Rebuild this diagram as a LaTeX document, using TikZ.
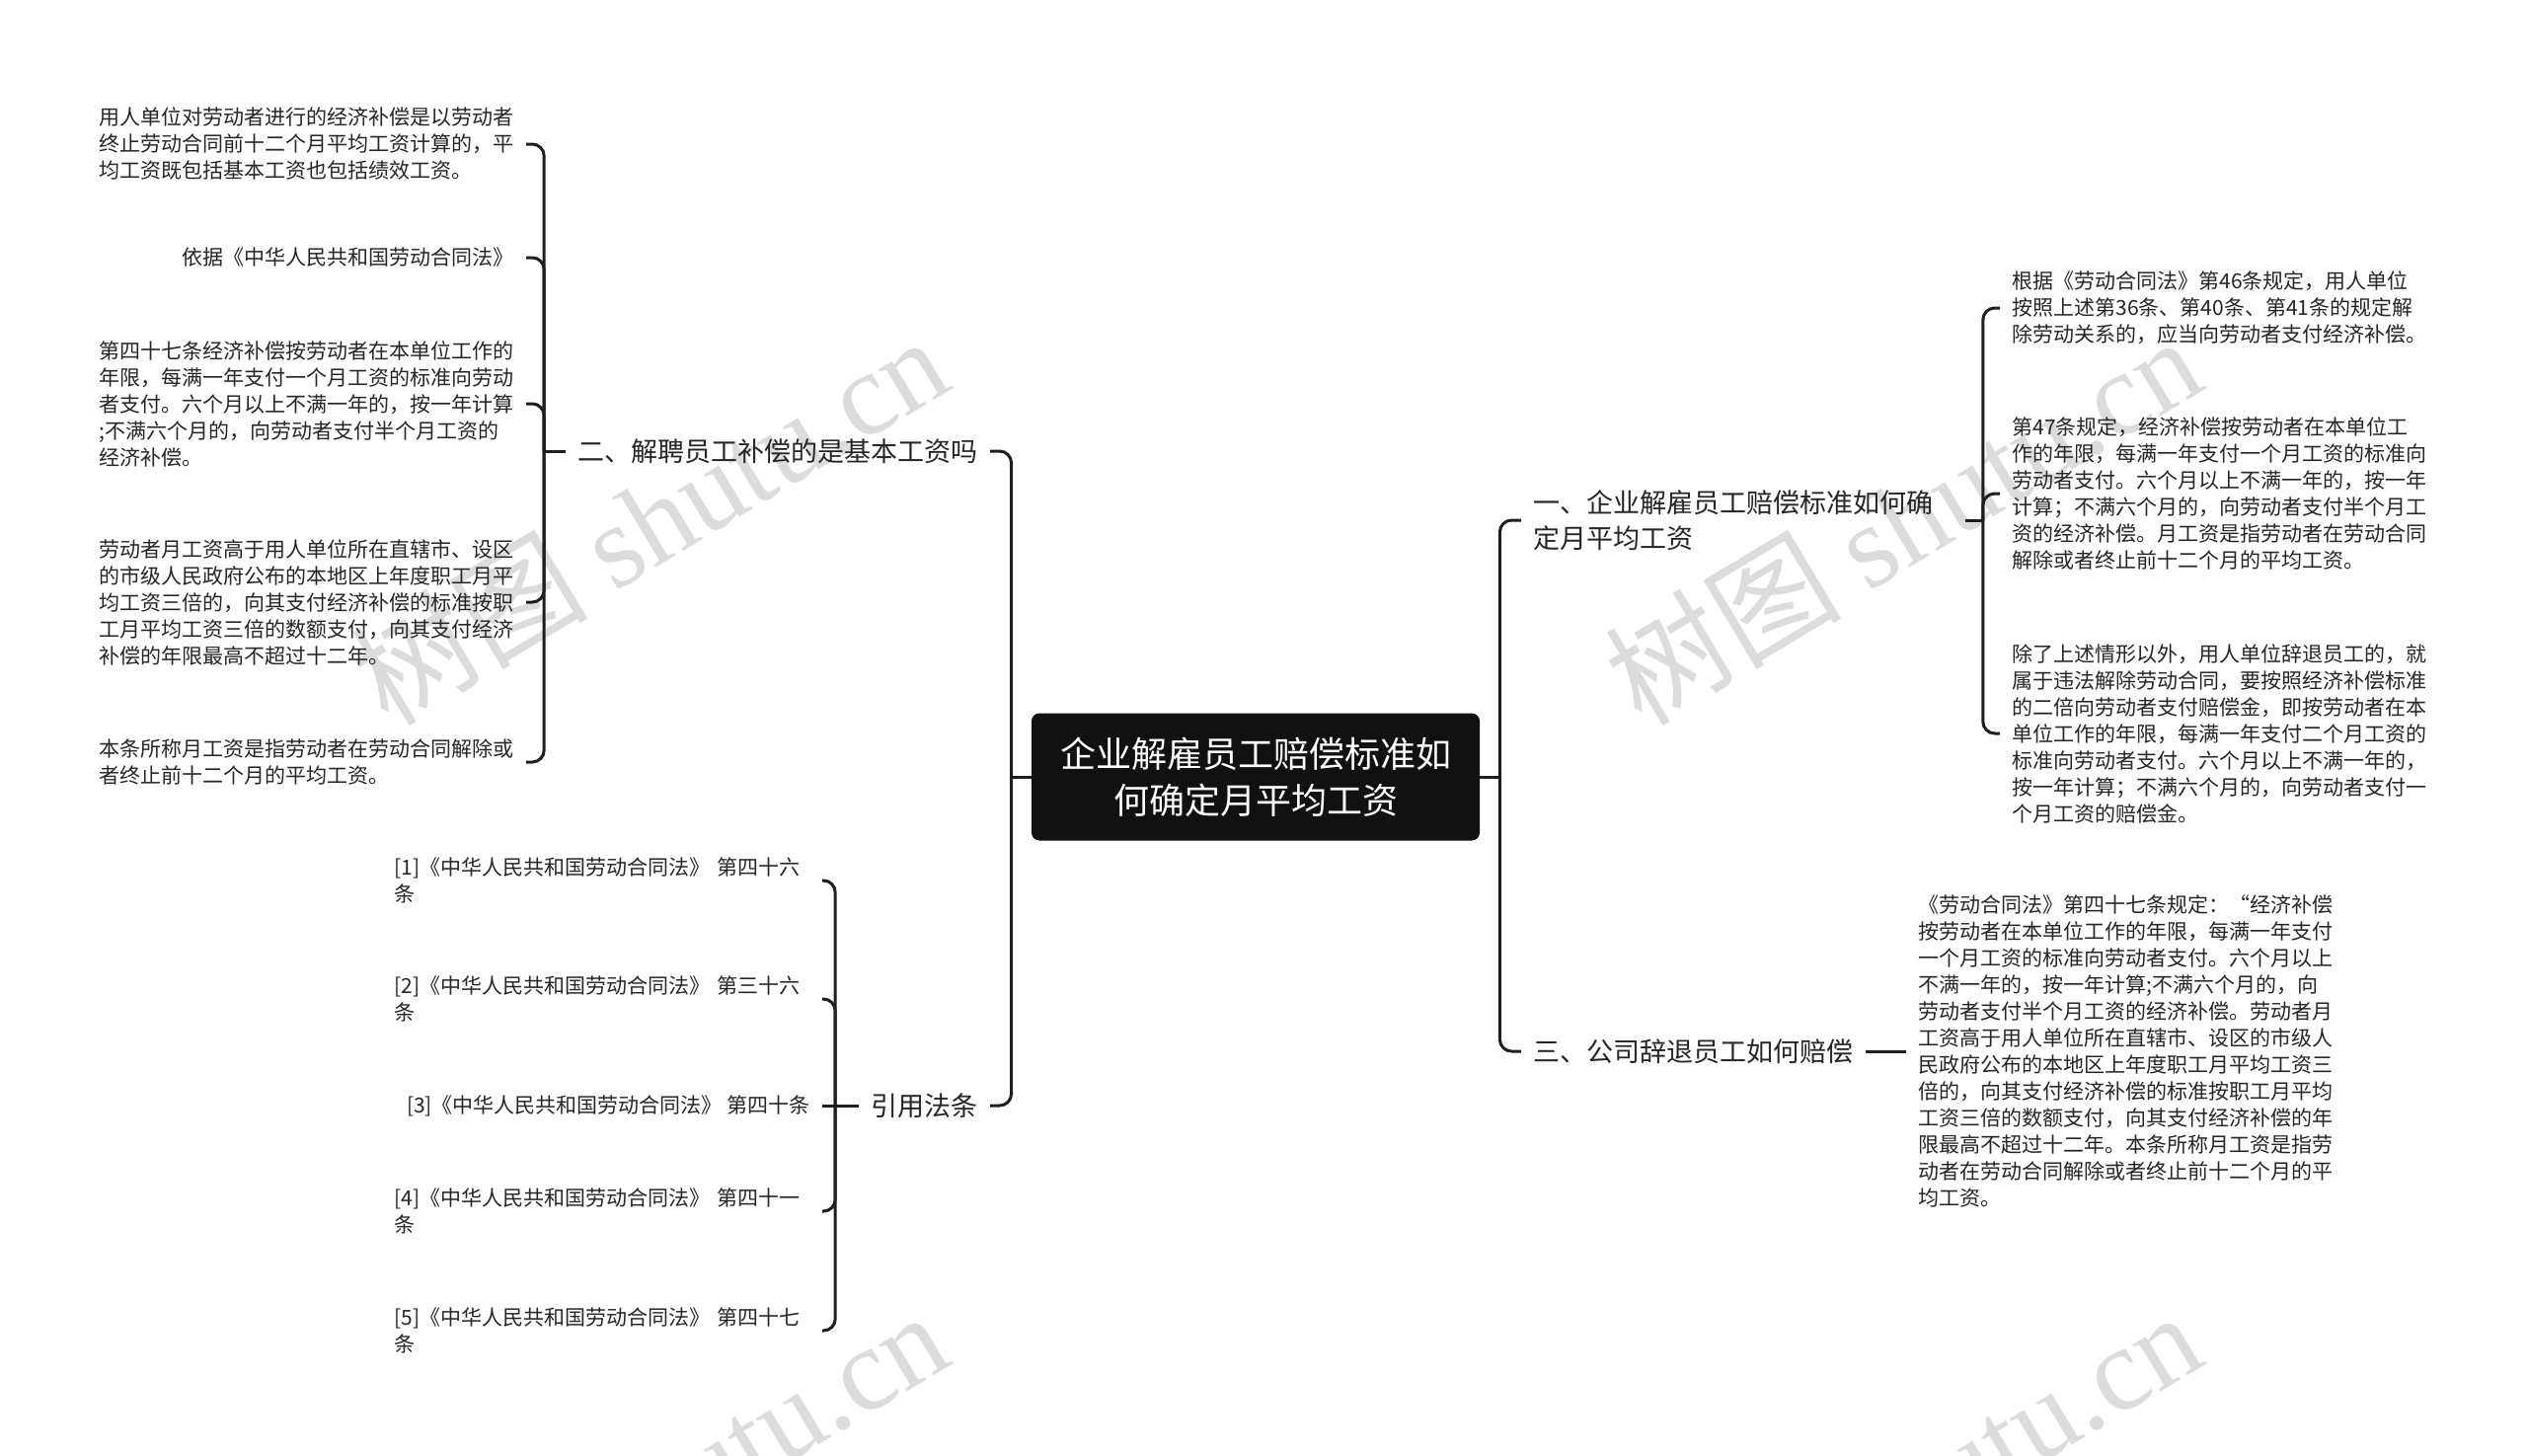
\documentclass[tikz,border=0pt]{standalone}
\usepackage{fontspec}
\setmainfont{Noto Sans CJK SC}
\newfontfamily\wmfont{Liberation Serif}
\usetikzlibrary{positioning}
\definecolor{rootfill}{HTML}{111111}
\definecolor{inkline}{HTML}{1E1E1E}
\definecolor{inktext}{HTML}{262626}
\definecolor{wmgray}{HTML}{DCDCDC}

\begin{document}
\begin{tikzpicture}[
    x=0.5pt, y=-0.5pt,
    every node/.style={text=inktext},
    rootnode/.style={fill=rootfill, text=white, rounded corners=4pt, minimum width=227pt, minimum height=64.5pt, align=center, font=\fontsize{18}{23.5}\selectfont},
    branch/.style={align=left, inner xsep=6pt, font=\fontsize{13.5}{18}\selectfont},
    leaf/.style={align=left, inner xsep=6pt, inner ysep=2pt, font=\fontsize{10.5}{13.5}\selectfont},
    refbox/.style={leaf, text width=210.5pt},
    link/.style={draw=inkline, line width=1.5pt, rounded corners=6pt},
    watermark/.style={text=wmgray, rotate=31, font=\fontsize{60}{60}\selectfont}
]
    \useasboundingbox[fill=white] (0,0) rectangle (2560,1474);
    \begin{scope}
        \clip (0,0) rectangle (2560,1474);
        \node[watermark] (wm1) at (657,526) {树图 {\wmfont shutu.cn}};
        \node[watermark] (wm2) at (1927,526) {树图 {\wmfont shutu.cn}};
        \node[watermark] (wm3) at (657,1514) {树图 {\wmfont shutu.cn}};
        \node[watermark] (wm4) at (1927,1514) {树图 {\wmfont shutu.cn}};
    \end{scope}

    \node[rootnode] (root) at (1272,787) {企业解雇员工赔偿标准如\\何确定月平均工资};

    \node[branch, anchor=west, text width=212.5pt] (pay) at (1541,527) {一、企业解雇员工赔偿标准如何确\\定月平均工资};
    \node[branch, anchor=west] (dismiss) at (1541,1065) {三、公司辞退员工如何赔偿};
    \node[branch, anchor=east] (basic) at (1003,457) {二、解聘员工补偿的是基本工资吗};
    \node[branch, anchor=east] (laws) at (1003,1120) {引用法条};

    \node[leaf, anchor=west] (art46) at (2026,312) {根据《劳动合同法》第46条规定，用人单位\\按照上述第36条、第40条、第41条的规定解\\除劳动关系的，应当向劳动者支付经济补偿。};
    \node[leaf, anchor=west] (art47) at (2026,500) {第47条规定，经济补偿按劳动者在本单位工\\作的年限，每满一年支付一个月工资的标准向\\劳动者支付。六个月以上不满一年的，按一年\\计算；不满六个月的，向劳动者支付半个月工\\资的经济补偿。月工资是指劳动者在劳动合同\\解除或者终止前十二个月的平均工资。};
    \node[leaf, anchor=west] (illegal) at (2026,743) {除了上述情形以外，用人单位辞退员工的，就\\属于违法解除劳动合同，要按照经济补偿标准\\的二倍向劳动者支付赔偿金，即按劳动者在本\\单位工作的年限，每满一年支付二个月工资的\\标准向劳动者支付。六个月以上不满一年的，\\按一年计算；不满六个月的，向劳动者支付一\\个月工资的赔偿金。};
    \node[leaf, anchor=west] (quote) at (1931,1065) {《劳动合同法》第四十七条规定：“经济补偿\\按劳动者在本单位工作的年限，每满一年支付\\一个月工资的标准向劳动者支付。六个月以上\\不满一年的，按一年计算;不满六个月的，向\\劳动者支付半个月工资的经济补偿。劳动者月\\工资高于用人单位所在直辖市、设区的市级人\\民政府公布的本地区上年度职工月平均工资三\\倍的，向其支付经济补偿的标准按职工月平均\\工资三倍的数额支付，向其支付经济补偿的年\\限最高不超过十二年。本条所称月工资是指劳\\动者在劳动合同解除或者终止前十二个月的平\\均工资。};

    \node[leaf, anchor=east] (base) at (533,146) {用人单位对劳动者进行的经济补偿是以劳动者\\终止劳动合同前十二个月平均工资计算的，平\\均工资既包括基本工资也包括绩效工资。};
    \node[leaf, anchor=east] (basis) at (533,261) {依据《中华人民共和国劳动合同法》};
    \node[leaf, anchor=east] (rule47) at (533,409) {第四十七条经济补偿按劳动者在本单位工作的\\年限，每满一年支付一个月工资的标准向劳动\\者支付。六个月以上不满一年的，按一年计算\\;不满六个月的，向劳动者支付半个月工资的\\经济补偿。};
    \node[leaf, anchor=east] (cap) at (533,610) {劳动者月工资高于用人单位所在直辖市、设区\\的市级人民政府公布的本地区上年度职工月平\\均工资三倍的，向其支付经济补偿的标准按职\\工月平均工资三倍的数额支付，向其支付经济\\补偿的年限最高不超过十二年。};
    \node[leaf, anchor=east] (monthly) at (533,772) {本条所称月工资是指劳动者在劳动合同解除或\\者终止前十二个月的平均工资。};

    \node[refbox, anchor=east] (ref1) at (833,892) {[1]《中华人民共和国劳动合同法》 第四十六\\条};
    \node[refbox, anchor=east] (ref2) at (833,1012) {[2]《中华人民共和国劳动合同法》 第三十六\\条};
    \node[leaf, anchor=east] (ref3) at (833,1120) {[3]《中华人民共和国劳动合同法》 第四十条};
    \node[refbox, anchor=east] (ref4) at (833,1227) {[4]《中华人民共和国劳动合同法》 第四十一\\条};
    \node[refbox, anchor=east] (ref5) at (833,1348) {[5]《中华人民共和国劳动合同法》 第四十七\\条};

    \draw[link] (root.east) -- ++(20,0) coordinate (rj);
    \draw[link] (rj) |- (pay.west);
    \draw[link] (rj) |- (dismiss.west);
    \draw[link] (root.west) -- ++(-20,0) coordinate (lj);
    \draw[link] (lj) |- (basic.east);
    \draw[link] (lj) |- (laws.east);

    \draw[link] (pay.east) -- ++(18,0) coordinate (pj);
    \draw[link] (pj) |- (art46.west);
    \draw[link] (pj) |- (art47.west);
    \draw[link] (pj) |- (illegal.west);
    \draw[link] (dismiss.east) -- (quote.west);

    \draw[link] (basic.west) -- ++(-22,0) coordinate (bj);
    \draw[link] (bj) |- (base.east);
    \draw[link] (bj) |- (basis.east);
    \draw[link] (bj) |- (rule47.east);
    \draw[link] (bj) |- (cap.east);
    \draw[link] (bj) |- (monthly.east);

    \draw[link] (laws.west) -- ++(-24,0) coordinate (fj);
    \draw[link] (fj) |- (ref1.east);
    \draw[link] (fj) |- (ref2.east);
    \draw[link] (fj) -- (ref3.east);
    \draw[link] (fj) |- (ref4.east);
    \draw[link] (fj) |- (ref5.east);
\end{tikzpicture}
\end{document}
